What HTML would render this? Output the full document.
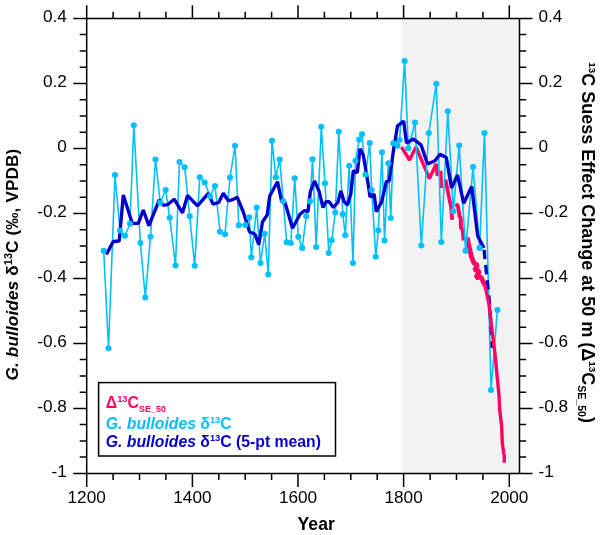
<!DOCTYPE html>
<html><head><meta charset="utf-8"><title>chart</title>
<style>
html,body{margin:0;padding:0;background:#fff;}
svg{display:block;font-family:"Liberation Sans",sans-serif;will-change:transform;}
.t{font-size:17.2px;fill:#000;}
.l{font-size:17.2px;}
.y{font-size:17.6px;}
.b{font-weight:bold;}
.i{font-style:italic;}
</style></head><body>
<svg width="600" height="535" viewBox="0 0 600 535">
<rect x="0" y="0" width="600" height="535" fill="#ffffff"/>
<rect x="402.2" y="18.4" width="117.3" height="455.0" fill="#f2f2f2"/>

<path d="M401.5,147.0 L409.5,160.0 L416.0,147.0 L429.4,178.6 L436.2,163.8 L437.2,175.5 L440.9,171.3 L441.3,188.0" fill="none" stroke="#ff0562" stroke-width="3.4" stroke-linejoin="bevel"/>
<path d="M445.4,179.3 L451.0,207.0 L452.2,219.8" fill="none" stroke="#ff0562" stroke-width="3.7" stroke-linejoin="bevel"/>
<path d="M455.3,205.0 L457.8,205.3 L459.6,216.5 L460.7,218.0 L461.0,228.5 L462.6,229.0 L463.6,240.5" fill="none" stroke="#ff0562" stroke-width="3.9" stroke-linejoin="bevel"/>
<path d="M467.3,237.5 L468.3,243.5 L469.8,249.5 L471.4,256.7 L473.8,262.8 L477.5,265.5 L474.5,270.0 L479.5,271.0 L476.0,277.5 L481.0,277.0 L484.2,283.7 L485.0,285.7" fill="none" stroke="#ff0562" stroke-width="4.8" stroke-linejoin="bevel"/>
<path d="M103.7,250.7 L108.5,348.2 L115.0,175.0 L120.0,230.5 L125.0,235.8 L130.0,223.7 L133.8,125.3 L140.4,243.0 L145.3,297.5 L150.5,236.7 L155.5,159.5 L160.3,202.8 L165.7,190.0 L169.7,217.8 L175.5,265.5 L179.5,162.0 L184.7,167.2 L189.7,216.3 L194.7,265.8 L199.7,177.3 L204.7,182.5 L210.0,196.3 L215.0,186.0 L220.0,231.7 L225.0,234.2 L230.0,177.5 L235.0,145.8 L238.8,225.3 L245.3,225.0 L249.2,217.3 L251.3,257.2 L256.7,207.5 L260.5,263.0 L264.7,233.8 L268.3,274.5 L272.0,140.7 L275.8,177.2 L279.7,159.5 L283.3,201.3 L286.7,242.2 L290.8,243.0 L294.7,178.3 L298.3,236.7 L302.2,248.0 L306.2,216.3 L310.0,201.3 L312.5,159.3 L316.2,247.0 L321.3,126.7 L325.0,183.3 L328.8,253.0 L331.7,240.3 L335.3,212.5 L338.8,131.7 L342.8,214.2 L345.3,235.3 L349.2,165.8 L353.0,263.0 L355.5,160.8 L359.2,139.6 L362.0,134.2 L365.5,174.6 L369.7,143.0 L371.7,190.0 L375.8,256.7 L378.3,230.3 L382.0,152.2 L384.5,240.5 L388.3,163.3 L390.8,218.0 L393.3,143.3 L397.5,145.8 L399.6,140.0 L404.6,61.0 L408.3,148.3 L415.0,122.5 L421.3,245.5 L428.8,133.0 L436.3,83.7 L441.3,242.0 L447.8,111.3 L453.3,211.2 L459.2,145.5 L465.6,250.8 L473.0,167.0 L479.6,247.9 L484.5,133.0 L491.0,390.0 L497.4,310.0" fill="none" stroke="#03c0fd" stroke-width="1.6" stroke-linejoin="round"/>
<path d="M106.3,254.5 L113.3,241.5 L119.2,241.0 L123.3,195.0 L132.2,223.3 L138.3,223.3 L143.3,210.0 L148.8,225.8 L159.2,200.0 L163.3,205.3 L167.5,204.7 L174.2,199.2 L182.5,212.8 L187.5,195.5 L197.5,205.8 L208.3,193.3 L213.0,204.2 L218.7,202.5 L223.3,193.3 L228.3,200.8 L232.5,199.7 L237.2,197.2 L243.3,212.0 L249.5,231.7 L255.0,234.2 L258.8,244.7 L262.5,221.7 L267.2,215.0 L269.7,196.0 L277.5,181.7 L281.7,201.7 L285.0,202.5 L292.5,228.3 L300.0,214.2 L304.5,210.5 L308.0,211.7 L310.3,191.7 L314.5,181.0 L319.2,191.7 L323.0,207.5 L325.8,201.7 L329.2,201.7 L333.3,207.5 L337.8,202.5 L340.8,190.8 L344.2,201.7 L347.5,205.0 L350.8,194.0 L353.3,170.8 L357.3,172.5 L360.0,148.7 L363.3,155.0 L368.3,185.0 L370.0,196.7 L374.2,194.2 L376.3,211.7 L381.7,201.7 L386.3,181.7 L389.2,180.8 L393.3,151.7 L397.5,125.8 L403.7,121.1 L406.5,143.0 L413.3,139.0 L421.0,144.8 L427.5,164.0 L435.0,160.8 L440.0,154.2 L446.3,157.5 L451.5,188.0 L457.5,175.0 L463.7,203.3 L471.7,186.5 L477.7,236.0 L483.9,247.9" fill="none" stroke="#0500cb" stroke-width="3.35" stroke-linejoin="bevel"/>
<g fill="#03c0fd"><circle cx="103.7" cy="250.7" r="3.05"/><circle cx="108.5" cy="348.2" r="3.05"/><circle cx="115.0" cy="175.0" r="3.05"/><circle cx="120.0" cy="230.5" r="3.05"/><circle cx="125.0" cy="235.8" r="3.05"/><circle cx="130.0" cy="223.7" r="3.05"/><circle cx="133.8" cy="125.3" r="3.05"/><circle cx="140.4" cy="243.0" r="3.05"/><circle cx="145.3" cy="297.5" r="3.05"/><circle cx="150.5" cy="236.7" r="3.05"/><circle cx="155.5" cy="159.5" r="3.05"/><circle cx="160.3" cy="202.8" r="3.05"/><circle cx="165.7" cy="190.0" r="3.05"/><circle cx="169.7" cy="217.8" r="3.05"/><circle cx="175.5" cy="265.5" r="3.05"/><circle cx="179.5" cy="162.0" r="3.05"/><circle cx="184.7" cy="167.2" r="3.05"/><circle cx="189.7" cy="216.3" r="3.05"/><circle cx="194.7" cy="265.8" r="3.05"/><circle cx="199.7" cy="177.3" r="3.05"/><circle cx="204.7" cy="182.5" r="3.05"/><circle cx="210.0" cy="196.3" r="3.05"/><circle cx="215.0" cy="186.0" r="3.05"/><circle cx="220.0" cy="231.7" r="3.05"/><circle cx="225.0" cy="234.2" r="3.05"/><circle cx="230.0" cy="177.5" r="3.05"/><circle cx="235.0" cy="145.8" r="3.05"/><circle cx="238.8" cy="225.3" r="3.05"/><circle cx="245.3" cy="225.0" r="3.05"/><circle cx="249.2" cy="217.3" r="3.05"/><circle cx="251.3" cy="257.2" r="3.05"/><circle cx="256.7" cy="207.5" r="3.05"/><circle cx="260.5" cy="263.0" r="3.05"/><circle cx="264.7" cy="233.8" r="3.05"/><circle cx="268.3" cy="274.5" r="3.05"/><circle cx="272.0" cy="140.7" r="3.05"/><circle cx="275.8" cy="177.2" r="3.05"/><circle cx="279.7" cy="159.5" r="3.05"/><circle cx="283.3" cy="201.3" r="3.05"/><circle cx="286.7" cy="242.2" r="3.05"/><circle cx="290.8" cy="243.0" r="3.05"/><circle cx="294.7" cy="178.3" r="3.05"/><circle cx="298.3" cy="236.7" r="3.05"/><circle cx="302.2" cy="248.0" r="3.05"/><circle cx="306.2" cy="216.3" r="3.05"/><circle cx="310.0" cy="201.3" r="3.05"/><circle cx="312.5" cy="159.3" r="3.05"/><circle cx="316.2" cy="247.0" r="3.05"/><circle cx="321.3" cy="126.7" r="3.05"/><circle cx="325.0" cy="183.3" r="3.05"/><circle cx="328.8" cy="253.0" r="3.05"/><circle cx="331.7" cy="240.3" r="3.05"/><circle cx="335.3" cy="212.5" r="3.05"/><circle cx="338.8" cy="131.7" r="3.05"/><circle cx="342.8" cy="214.2" r="3.05"/><circle cx="345.3" cy="235.3" r="3.05"/><circle cx="349.2" cy="165.8" r="3.05"/><circle cx="353.0" cy="263.0" r="3.05"/><circle cx="355.5" cy="160.8" r="3.05"/><circle cx="359.2" cy="139.6" r="3.05"/><circle cx="362.0" cy="134.2" r="3.05"/><circle cx="365.5" cy="174.6" r="3.05"/><circle cx="369.7" cy="143.0" r="3.05"/><circle cx="371.7" cy="190.0" r="3.05"/><circle cx="375.8" cy="256.7" r="3.05"/><circle cx="378.3" cy="230.3" r="3.05"/><circle cx="382.0" cy="152.2" r="3.05"/><circle cx="384.5" cy="240.5" r="3.05"/><circle cx="388.3" cy="163.3" r="3.05"/><circle cx="390.8" cy="218.0" r="3.05"/><circle cx="393.3" cy="143.3" r="3.05"/><circle cx="397.5" cy="145.8" r="3.05"/><circle cx="399.6" cy="140.0" r="3.05"/><circle cx="404.6" cy="61.0" r="3.05"/><circle cx="408.3" cy="148.3" r="3.05"/><circle cx="415.0" cy="122.5" r="3.05"/><circle cx="421.3" cy="245.5" r="3.05"/><circle cx="428.8" cy="133.0" r="3.05"/><circle cx="436.3" cy="83.7" r="3.05"/><circle cx="441.3" cy="242.0" r="3.05"/><circle cx="447.8" cy="111.3" r="3.05"/><circle cx="453.3" cy="211.2" r="3.05"/><circle cx="459.2" cy="145.5" r="3.05"/><circle cx="465.6" cy="250.8" r="3.05"/><circle cx="473.0" cy="167.0" r="3.05"/><circle cx="479.6" cy="247.9" r="3.05"/><circle cx="484.5" cy="133.0" r="3.05"/><circle cx="491.0" cy="390.0" r="3.05"/><circle cx="497.4" cy="310.0" r="3.05"/></g>
<path d="M484.1,249.8 L484.9,259.0 L486.6,274.3 L489.7,304.3 L492.3,348.0" fill="none" stroke="#0500cb" stroke-width="3.3" stroke-dasharray="9.3 6"/>
<path d="M485.0,285.7 L489.0,304.3 L491.0,321.7 L495.0,353.7 L497.0,375.0 L499.0,395.0 L499.7,410.0 L501.7,427.3 L502.3,443.3 L503.7,452.7 L504.3,456.0 L504.3,462.7" fill="none" stroke="#ff0562" stroke-width="3.4" stroke-linejoin="round"/>
<path d="M73.3,18.4 H532.5 M73.3,473.4 H532.5 M86.7,5.3 V487.0 M519.5,18.4 V473.4 M86.7,5.3 V18.4 M86.7,473.4 V487.0 M113.1,11.7 V18.4 M113.1,473.4 V480.1 M139.5,11.7 V18.4 M139.5,473.4 V480.1 M165.9,11.7 V18.4 M165.9,473.4 V480.1 M192.4,5.3 V18.4 M192.4,473.4 V487.0 M218.8,11.7 V18.4 M218.8,473.4 V480.1 M245.2,11.7 V18.4 M245.2,473.4 V480.1 M271.6,11.7 V18.4 M271.6,473.4 V480.1 M298.0,5.3 V18.4 M298.0,473.4 V487.0 M324.4,11.7 V18.4 M324.4,473.4 V480.1 M350.8,11.7 V18.4 M350.8,473.4 V480.1 M377.2,11.7 V18.4 M377.2,473.4 V480.1 M403.6,5.3 V18.4 M403.6,473.4 V487.0 M430.1,11.7 V18.4 M430.1,473.4 V480.1 M456.5,11.7 V18.4 M456.5,473.4 V480.1 M482.9,11.7 V18.4 M482.9,473.4 V480.1 M509.3,5.3 V18.4 M509.3,473.4 V487.0 M73.3,18.4 H86.7 M519.5,18.4 H532.5 M79.7,34.6 H86.7 M519.5,34.6 H526.2 M79.7,50.9 H86.7 M519.5,50.9 H526.2 M79.7,67.2 H86.7 M519.5,67.2 H526.2 M73.3,83.4 H86.7 M519.5,83.4 H532.5 M79.7,99.7 H86.7 M519.5,99.7 H526.2 M79.7,115.9 H86.7 M519.5,115.9 H526.2 M79.7,132.2 H86.7 M519.5,132.2 H526.2 M73.3,148.4 H86.7 M519.5,148.4 H532.5 M79.7,164.7 H86.7 M519.5,164.7 H526.2 M79.7,180.9 H86.7 M519.5,180.9 H526.2 M79.7,197.2 H86.7 M519.5,197.2 H526.2 M73.3,213.4 H86.7 M519.5,213.4 H532.5 M79.7,229.7 H86.7 M519.5,229.7 H526.2 M79.7,245.9 H86.7 M519.5,245.9 H526.2 M79.7,262.2 H86.7 M519.5,262.2 H526.2 M73.3,278.4 H86.7 M519.5,278.4 H532.5 M79.7,294.7 H86.7 M519.5,294.7 H526.2 M79.7,310.9 H86.7 M519.5,310.9 H526.2 M79.7,327.2 H86.7 M519.5,327.2 H526.2 M73.3,343.4 H86.7 M519.5,343.4 H532.5 M79.7,359.6 H86.7 M519.5,359.6 H526.2 M79.7,375.9 H86.7 M519.5,375.9 H526.2 M79.7,392.2 H86.7 M519.5,392.2 H526.2 M73.3,408.4 H86.7 M519.5,408.4 H532.5 M79.7,424.6 H86.7 M519.5,424.6 H526.2 M79.7,440.9 H86.7 M519.5,440.9 H526.2 M79.7,457.1 H86.7 M519.5,457.1 H526.2 M73.3,473.4 H86.7 M519.5,473.4 H532.5" fill="none" stroke="#000" stroke-width="1.5"/>
<text class="t" x="66.8" y="22.4" text-anchor="end">0.4</text>
<text class="t" x="538.5" y="22.4">0.4</text>
<text class="t" x="66.8" y="87.4" text-anchor="end">0.2</text>
<text class="t" x="538.5" y="87.4">0.2</text>
<text class="t" x="66.8" y="152.4" text-anchor="end">0</text>
<text class="t" x="538.5" y="152.4">0</text>
<text class="t" x="66.8" y="217.4" text-anchor="end">-0.2</text>
<text class="t" x="538.5" y="217.4">-0.2</text>
<text class="t" x="66.8" y="282.4" text-anchor="end">-0.4</text>
<text class="t" x="538.5" y="282.4">-0.4</text>
<text class="t" x="66.8" y="347.4" text-anchor="end">-0.6</text>
<text class="t" x="538.5" y="347.4">-0.6</text>
<text class="t" x="66.8" y="412.4" text-anchor="end">-0.8</text>
<text class="t" x="538.5" y="412.4">-0.8</text>
<text class="t" x="66.8" y="477.4" text-anchor="end">-1</text>
<text class="t" x="538.5" y="477.4">-1</text>
<text class="t" x="86.7" y="503.4" text-anchor="middle">1200</text>
<text class="t" x="192.4" y="503.4" text-anchor="middle">1400</text>
<text class="t" x="298.0" y="503.4" text-anchor="middle">1600</text>
<text class="t" x="403.6" y="503.4" text-anchor="middle">1800</text>
<text class="t" x="509.3" y="503.4" text-anchor="middle">2000</text>
<text class="t b y" x="297.6" y="529.6">Year</text>
<text class="t b l" style="letter-spacing:0.12px" transform="translate(18.2,380.5) rotate(-90)"><tspan class="i">G. bulloides</tspan> δ<tspan font-size="10.8" dy="-6">13</tspan><tspan dy="6">C (‰, VPDB)</tspan></text>
<text class="t b l" style="font-size:18.0px" transform="translate(582.2,62.3) rotate(90)"><tspan font-size="9.8" dy="-6.5">13</tspan><tspan dy="6.5">C Suess Effect Change at 50 m (Δ</tspan><tspan font-size="9.8" dy="-6.5">13</tspan><tspan dy="6.5">C</tspan><tspan font-size="10.6" dy="4">SE_50</tspan><tspan dy="-4">)</tspan></text>
<rect x="98.6" y="382.6" width="236.9" height="73.4" fill="#fff" stroke="#000" stroke-width="1.5"/>
<text class="t b" x="105.8" y="408.2" style="fill:#ff0562;font-size:15.75px">Δ<tspan font-size="9.4" dy="-6">13</tspan><tspan dy="6">C</tspan><tspan font-size="9.0" dy="4">SE_50</tspan></text>
<text class="t b" x="105.8" y="429.2" style="fill:#03c0fd;font-size:15.75px"><tspan class="i">G. bulloides</tspan> δ<tspan font-size="9.4" dy="-6">13</tspan><tspan dy="6">C</tspan></text>
<text class="t b" x="105.8" y="446.9" style="fill:#0500cb;font-size:15.75px"><tspan class="i">G. bulloides</tspan> δ<tspan font-size="9.4" dy="-6">13</tspan><tspan dy="6">C (5-pt mean)</tspan></text>
</svg></body></html>
